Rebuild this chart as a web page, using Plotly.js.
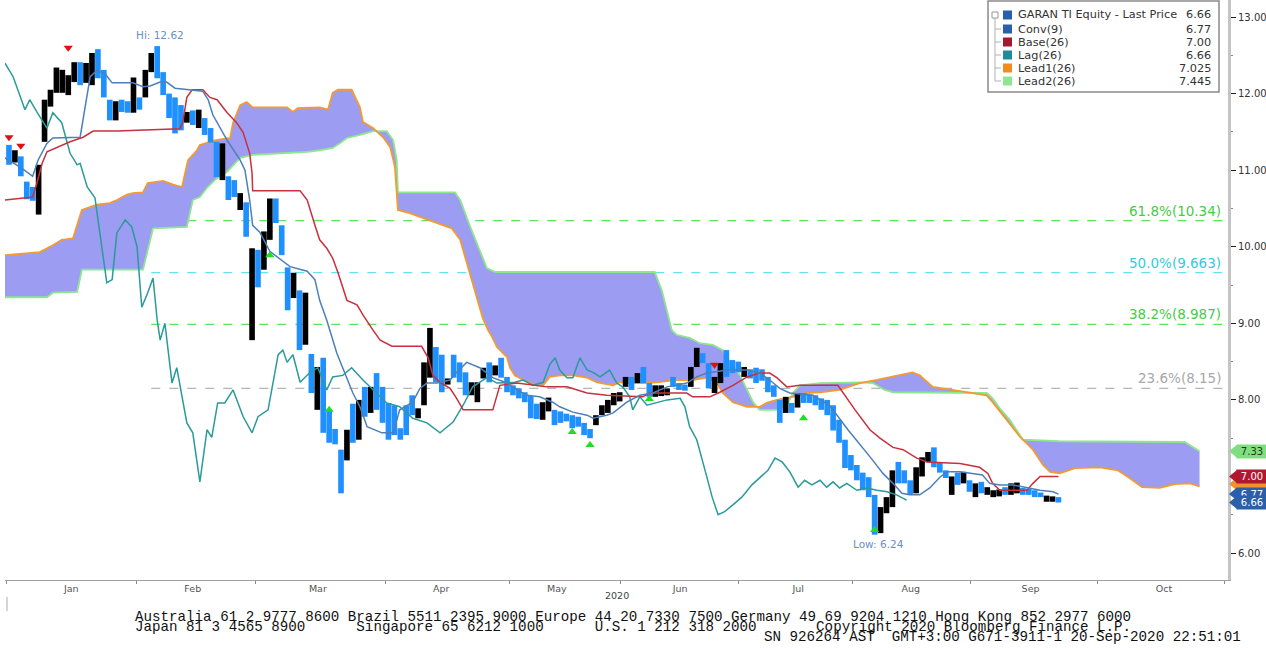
<!DOCTYPE html>
<html><head><meta charset="utf-8">
<script src="https://cdn.plot.ly/plotly-3.0.1.min.js"></script>
<style>html,body{margin:0;padding:0;background:#fff;} #chart{width:1266px;height:650px;}</style>
</head><body><div id="chart"></div>
<script>
// ---- Price data (trading-day index 0 = 2 Jan 2020) ----
const opens = [11.33,11.10,11.18,10.85,10.78,10.42,11.37,11.83,12.01,12.01,11.98,12.15,12.41,12.14,12.11,12.58,12.31,11.92,11.65,11.92,
11.90,11.75,11.95,11.95,12.28,12.62,12.28,12.00,11.95,11.85,11.62,11.78,11.55,11.68,11.55,11.37,10.87,10.92,10.87,10.48,
10.58,8.78,9.96,9.70,10.09,10.63,10.28,9.73,9.33,9.43,8.72,8.60,7.87,8.55,7.87,7.62,7.35,7.21,7.95,7.48,
8.17,7.83,8.35,8.17,7.96,7.93,7.63,7.93,8.06,7.76,7.93,8.29,8.69,8.59,8.20,8.59,8.49,8.36,8.06,7.97,
8.28,8.49,8.32,8.55,8.30,8.19,8.15,8.10,8.05,7.95,7.74,7.85,7.87,7.85,7.82,7.80,7.78,7.70,7.62,7.67,
7.80,7.83,7.93,7.98,8.17,8.30,8.22,8.43,8.22,8.04,8.05,8.06,8.30,8.22,8.20,8.17,8.43,8.61,8.48,8.09,
8.22,8.65,8.52,8.50,8.30,8.40,8.42,8.40,8.30,8.19,8.00,7.83,7.96,7.90,8.09,8.07,8.06,8.02,8.00,7.93,
7.74,7.48,7.28,7.15,7.05,6.99,6.76,6.26,6.52,6.60,7.19,7.08,6.95,6.78,7.00,7.19,7.38,7.18,7.08,6.76,
7.05,6.91,6.95,6.73,6.93,6.76,6.73,6.74,6.86,6.76,6.78,6.85,6.84,6.82,6.79,6.67,6.67,6.73];
const closes = [11.07,11.26,10.92,10.62,10.60,11.07,11.92,12.05,12.34,12.31,12.24,12.41,12.11,12.40,12.53,12.20,11.95,11.65,11.90,11.76,
11.75,12.21,11.79,12.31,12.53,12.20,11.98,11.68,11.48,11.52,11.76,11.59,11.79,11.46,11.36,10.91,11.35,10.61,10.65,10.70,
10.13,9.98,9.47,10.20,10.63,10.31,9.89,9.17,9.66,8.65,9.40,8.09,8.43,7.57,7.44,7.42,6.78,7.61,7.44,8.00,
7.78,8.17,7.87,7.70,7.48,7.54,7.48,7.54,7.80,7.89,8.49,8.94,8.23,8.10,8.28,8.29,8.23,8.06,8.23,8.23,
8.42,8.23,8.45,8.29,8.10,8.06,8.02,7.97,7.76,7.75,7.97,8.03,7.67,7.70,7.72,7.63,7.65,7.54,7.50,7.80,
7.93,8.00,8.09,8.10,8.30,8.13,8.35,8.22,8.04,8.19,8.19,8.15,8.17,8.13,8.12,8.43,8.68,8.48,8.15,8.30,
8.48,8.30,8.35,8.36,8.43,8.28,8.22,8.25,8.10,8.04,7.70,8.04,7.83,8.09,7.96,7.96,7.93,7.87,7.80,7.60,
7.44,7.11,7.08,6.95,6.82,6.73,6.24,6.60,6.73,7.08,6.91,6.91,6.76,7.12,7.25,7.32,7.12,7.05,6.98,7.00,
6.89,7.06,6.80,6.91,6.78,6.86,6.82,6.83,6.76,6.91,6.92,6.76,6.76,6.73,6.73,6.75,6.74,6.66];

// ---- Ichimoku lines (day index, value) ----
const convX = [-0.7,1.9,4.0,4.9,6.4,7.4,12.0,12.8,13.7,14.8,16.2,17.4,20.9,22.6,23.8,25.5,26.6,28.0,31.0,32.7,33.6,34.4,36.8,39.0,39.8,40.6,41.1,42.3,44.0,47.4,50.3,51.6,52.4,53.6,55.3,56.3,58.0,59.2,60.4,62.9,64.8,65.9,68.1,69.3,70.5,72.2,74.4,75.5,77.2,79.4,81.6,84.0,85.7,87.4,89.5,91.7,92.9,95.1,97.5,98.5,100.8,101.9,104.2,106.4,108.6,111.0,114.3,116.0,117.7,121.1,124.5,126.6,128.3,130.0,131.7,135.6,138.4,141.5,144.0,145.7,147.4,149.1,150.6,151.9,153.6,155.3,157.0,158.2,160.4,162.6,164.2,165.4,167.1,169.3,171.7,173.9,176.1,177.0];
const convY = [11.16,11.04,10.92,11.13,11.35,11.42,11.43,11.79,12.22,12.30,12.26,12.14,12.14,12.09,12.10,12.15,12.15,12.07,12.05,12.03,11.92,11.72,11.39,11.13,11.00,10.61,10.28,10.19,9.94,9.74,9.68,9.57,9.30,9.04,8.61,8.42,8.09,7.91,7.65,7.57,7.57,7.87,7.97,8.15,8.22,8.22,8.26,8.36,8.49,8.42,8.29,8.22,8.13,8.06,8.04,7.97,7.91,7.84,7.80,7.76,7.80,7.83,7.97,8.06,8.09,8.17,8.22,8.30,8.35,8.39,8.39,8.35,8.26,8.15,8.09,8.06,7.93,7.61,7.38,7.21,7.04,6.91,6.78,6.76,6.76,6.85,6.99,7.06,7.06,7.04,7.02,6.91,6.89,6.89,6.85,6.82,6.80,6.77];

const baseX = [-0.7,4.0,4.7,5.6,6.4,8.1,10.3,12.5,14.2,18.2,28.8,29.3,30.0,30.9,32.7,33.9,35.1,36.8,38.4,39.5,40.6,41.0,41.1,49.1,50.3,51.6,52.4,53.6,54.6,55.5,56.3,57.0,58.7,59.7,61.4,62.6,64.6,69.6,70.7,71.5,72.7,74.4,75.5,76.6,81.6,82.3,82.8,85.7,90.7,94.1,97.5,100.8,106.9,108.1,114.3,115.3,118.2,119.9,122.1,124.5,126.6,128.3,129.5,131.2,133.4,139.8,140.6,142.7,145.2,146.9,149.1,150.8,153.1,154.8,160.4,163.7,165.1,165.9,167.1,171.7,172.7,173.9,177.0];
const baseY = [10.61,10.65,10.83,11.09,11.24,11.30,11.37,11.43,11.51,11.51,11.54,11.62,11.95,12.05,12.05,11.95,11.92,11.75,11.62,11.49,11.22,10.96,10.73,10.73,10.61,10.28,10.09,9.98,9.85,9.66,9.47,9.30,9.24,9.11,8.91,8.78,8.70,8.70,8.55,8.32,8.23,8.15,8.02,7.87,7.87,8.06,8.19,8.22,8.17,8.17,8.09,8.06,8.04,8.09,8.09,8.04,8.04,8.10,8.19,8.30,8.35,8.35,8.29,8.17,8.19,8.19,8.10,7.87,7.61,7.50,7.38,7.35,7.24,7.19,7.17,7.12,7.04,6.91,6.82,6.82,6.91,7.00,7.00];

const lagX = [-0.7,0.7,2.7,3.5,4.7,6.4,7.4,8.9,10.3,11.5,12.0,13.2,14.5,15.3,16.5,17.4,18.2,19.6,20.7,21.6,22.4,23.4,24.3,25.0,25.5,26.3,27.5,28.3,30.0,31.0,32.2,33.4,34.2,35.2,36.4,37.8,39.5,41.0,42.0,43.7,45.4,46.2,46.9,47.9,49.1,50.8,52.1,53.6,54.6,56.3,57.8,59.7,61.4,63.7,65.9,68.1,70.5,72.7,74.9,76.6,78.2,80.6,82.3,85.3,86.7,88.4,90.1,91.2,92.1,92.9,94.1,95.1,96.3,97.5,98.5,99.7,101.3,102.5,103.5,104.7,105.2,106.4,107.6,109.3,111.0,113.2,114.0,114.8,116.0,117.4,118.6,119.6,120.7,122.1,123.6,125.3,126.6,128.0,129.2,130.4,131.7,133.1,134.2,135.4,136.8,137.9,139.0,140.1,141.3,143.0,144.7,146.4,148.1,149.7,151.4];
const lagY = [12.40,12.22,11.79,11.92,11.76,11.55,11.75,11.62,11.22,11.07,11.09,10.78,10.64,10.18,9.53,9.57,10.18,10.35,10.26,10.00,9.21,9.40,9.59,9.04,8.78,9.00,8.22,8.42,7.70,7.57,6.93,7.61,7.51,7.96,7.96,8.13,7.78,7.57,7.78,7.87,8.59,8.65,8.49,8.59,8.23,8.36,8.42,8.13,8.30,8.32,8.42,8.26,8.13,7.96,7.91,7.76,7.70,7.57,7.71,7.93,8.17,8.29,8.22,8.23,8.26,8.19,8.23,8.46,8.55,8.39,8.29,8.29,8.55,8.39,8.36,8.30,8.39,8.22,8.17,8.04,7.87,8.04,7.93,7.97,8.00,8.02,7.91,7.65,7.48,7.08,6.73,6.50,6.54,6.63,6.73,6.89,6.98,7.08,7.24,7.19,7.06,6.86,6.95,6.89,6.95,6.86,6.93,6.85,6.91,6.82,6.85,6.82,6.80,6.76,6.69];

const lead1X = [-0.7,5.2,7.4,8.9,10.8,12.3,14.8,17.0,18.2,19.9,20.9,22.6,23.4,26.0,27.7,29.2,29.7,30.2,31.7,32.2,34.7,37.3,37.8,39.0,40.1,41.1,46.9,47.9,48.7,52.4,53.8,54.6,55.5,57.8,59.2,59.7,61.4,63.1,64.3,65.1,65.6,67.6,69.3,72.7,74.7,76.1,77.1,78.6,79.9,80.8,81.5,82.3,84.0,84.5,85.3,86.7,89.0,90.1,91.2,92.9,95.1,97.5,99.2,101.9,103.0,104.2,106.9,109.3,112.6,115.3,117.7,119.4,120.4,122.1,124.5,126.6,127.8,129.5,132.2,134.6,136.8,140.1,143.5,146.4,149.4,152.4,153.6,155.8,161.5,164.9,165.9,168.3,170.5,172.7,174.4,175.6,177.2,179.8,184.0,187.0,189.0,191.1,194.1,196.6,199.2,200.8];
const lead1Y = [9.89,9.93,10.02,10.09,10.11,10.48,10.55,10.57,10.61,10.68,10.70,10.71,10.83,10.86,10.81,10.78,10.96,11.13,11.26,11.33,11.39,11.42,11.62,11.85,11.89,11.82,11.82,11.76,11.81,11.82,11.79,12.01,12.05,12.05,11.82,11.63,11.55,11.43,11.30,11.04,10.48,10.44,10.39,10.30,10.24,10.09,9.83,9.43,9.07,8.91,8.82,8.69,8.56,8.42,8.32,8.26,8.19,8.19,8.30,8.32,8.32,8.29,8.23,8.19,8.23,8.22,8.22,8.23,8.26,8.26,8.29,8.22,8.09,7.97,7.91,7.91,7.96,8.00,8.04,8.09,8.10,8.13,8.22,8.26,8.31,8.36,8.32,8.17,8.10,8.06,7.97,7.74,7.52,7.35,7.15,7.06,7.04,7.11,7.12,7.08,6.98,6.86,6.85,6.90,6.91,6.87];

const lead2X = [-0.7,6.4,7.4,11.5,12.3,22.6,24.3,30.0,31.0,32.2,33.4,34.7,36.8,39.0,41.1,46.9,50.3,52.4,54.6,55.8,57.0,59.2,61.4,63.7,64.8,65.4,65.6,75.2,76.1,77.7,79.4,80.6,82.0,108.9,110.1,111.1,111.8,112.6,114.8,116.5,118.7,120.4,121.1,123.3,124.5,125.5,126.6,129.5,131.2,132.2,133.4,136.8,143.5,145.7,147.7,149.1,164.9,165.9,167.1,168.8,171.0,177.2,198.3,200.0,200.8];
const lead2Y = [9.34,9.34,9.40,9.41,9.70,9.70,10.24,10.26,10.61,10.65,10.77,10.87,10.98,11.16,11.20,11.22,11.24,11.26,11.29,11.35,11.42,11.46,11.51,11.51,11.39,11.13,10.71,10.71,10.61,10.28,9.96,9.72,9.67,9.67,9.43,9.11,8.91,8.85,8.81,8.74,8.72,8.65,8.55,8.32,8.13,7.97,7.87,7.87,7.93,8.09,8.19,8.22,8.23,8.22,8.13,8.10,8.09,8.02,7.89,7.74,7.48,7.46,7.45,7.37,7.33];

// ---- Signals ----
const sellX = [0,2,10,119];
const sellY = [11.43,11.32,12.60,8.46];
const buyX = [44,54,95,98,108,134,146];
const buyY = [9.89,7.87,7.58,7.41,8.01,7.76,6.30];

// ---- Fibonacci retracement levels ----
const fibLevels = [10.34, 9.663, 8.987, 8.15];
const fibLabels = ['61.8%(10.34)', '50.0%(9.663)', '38.2%(8.987)', '23.6%(8.15)'];
const fibColors = ['#66dd66', '#66e2ee', '#66dd66', '#b5b5b5'];
const fibTextColors = ['#44cc44', '#33ccdd', '#44cc44', '#a8a8a8'];
const fibStart = 24;

// ---- Axis labels ----
const monthLabels = ['Jan','Feb','Mar','Apr','May','Jun','Jul','Aug','Sep','Oct'];
const monthCenters = [10.5,31.0,52.1,72.9,92.4,113.2,133.1,152.1,172.3,194.8];
const monthStarts = [-0.5,21.5,41.5,63.5,84.5,103.2,123.1,142.3,162.2,183.6,205.0];
const yTicks = [6,7,8,9,10,11,12,13];

// ---- Legend / last values ----
const legendNames = ['GARAN TI Equity - Last Price','Conv(9)','Base(26)','Lag(26)','Lead1(26)','Lead2(26)'];
const legendValues = ['6.66','6.77','7.00','6.66','7.025','7.445'];
const legendColors = ['#2a5fae','#2a5fae','#a3192f','#1f8c9c','#f28c1c','#8ee68e'];
const tagValues = [7.33, 7.00, 6.77, 6.66];
const tagTexts = ['7.33','7.00','6.77','6.66'];
const tagColors = ['#80de80','#b3162f','#2b5fa8','#2b5fa8'];
const tagTextColors = ['#1a3a1a','#ffffff','#ffffff','#ffffff'];
const lead1TagValue = 6.90;

const XR = [-0.67, 205.6];
const YR = [5.648, 13.222];

const days = opens.map((_, k) => k);
const body = closes.map((c, k) => c - opens[k]);
const barColors = closes.map((c, k) => c >= opens[k] ? '#000000' : '#1e90ff');

const traces = [
  {type:'scatter', mode:'lines', x: lead2X, y: lead2Y, line:{color:'#8ee68e', width:1.8}, hoverinfo:'skip'},
  {type:'scatter', mode:'lines', x: lead1X, y: lead1Y, fill:'tonexty', fillcolor:'rgb(156,156,242)', line:{color:'#f39a30', width:1.8}, hoverinfo:'skip'},
  {type:'bar', x: days, y: body, base: opens, width: 0.95, marker:{color: barColors, line:{width:0}}, xaxis:'x2', yaxis:'y2', hoverinfo:'skip'},
  {type:'scatter', mode:'lines', x: lagX, y: lagY, line:{color:'#2a9a9a', width:1.5}, xaxis:'x2', yaxis:'y2', hoverinfo:'skip'},
  {type:'scatter', mode:'lines', x: baseX, y: baseY, line:{color:'#c8303c', width:1.5}, xaxis:'x2', yaxis:'y2', hoverinfo:'skip'},
  {type:'scatter', mode:'lines', x: convX, y: convY, line:{color:'#4d7fb8', width:1.5}, xaxis:'x2', yaxis:'y2', hoverinfo:'skip'},
  {type:'scatter', mode:'markers', x: sellX, y: sellY, marker:{symbol:'triangle-down', size:8, color:'#e01010'}, xaxis:'x2', yaxis:'y2', hoverinfo:'skip'},
  {type:'scatter', mode:'markers', x: buyX, y: buyY, marker:{symbol:'triangle-up', size:8, color:'#22dd22'}, xaxis:'x2', yaxis:'y2', hoverinfo:'skip'}
];

const px2paperX = p => (p - 5) / 1223;
const px2paperY = p => (580 - p) / 580;

const shapes = [];
const annotations = [];

fibLevels.forEach((lv, k) => {
  shapes.push({type:'line', xref:'x', yref:'y', x0: fibStart, x1: XR[1], y0: lv, y1: lv, layer:'below',
    line:{color: fibColors[k], width:1.3, dash:'dash'}});
  annotations.push({xref:'paper', yref:'y', x: px2paperX(1223), y: lv, xanchor:'right', yanchor:'bottom', yshift:0,
    text: fibLabels[k], showarrow:false, font:{family:'DejaVu Sans', size:13.5, color: fibTextColors[k]}});
});

// Hi / Low labels
annotations.push({xref:'x', yref:'y', x: 25.4, y: 12.62, yanchor:'bottom', yshift:3, showarrow:false,
  text:'Hi: 12.62', font:{family:'DejaVu Sans', size:10.5, color:'#6a8fc8'}});
annotations.push({xref:'x', yref:'y', x: 146.6, y: 6.24, yanchor:'top', yshift:-1, showarrow:false,
  text:'Low: 6.24', font:{family:'DejaVu Sans', size:10.5, color:'#6a8fc8'}});

// Legend box
shapes.push({type:'rect', xref:'paper', yref:'paper', x0: px2paperX(988), x1: px2paperX(1219), y0: px2paperY(92), y1: px2paperY(1),
  fillcolor:'#ffffff', line:{color:'#8a8a8a', width:1.5}, layer:'above'});
const rowY = [15, 29, 42, 55, 68, 81];
shapes.push({type:'line', xref:'paper', yref:'paper', x0: px2paperX(995), x1: px2paperX(995), y0: px2paperY(18), y1: px2paperY(81),
  line:{color:'#b0b0b0', width:1}});
shapes.push({type:'rect', xref:'paper', yref:'paper', x0: px2paperX(992), x1: px2paperX(998), y0: px2paperY(18), y1: px2paperY(12),
  fillcolor:'#ffffff', line:{color:'#999', width:1}});
legendNames.forEach((nm, k) => {
  const py = rowY[k];
  if (k > 0) shapes.push({type:'line', xref:'paper', yref:'paper', x0: px2paperX(995), x1: px2paperX(1001), y0: px2paperY(py), y1: px2paperY(py),
    line:{color:'#b0b0b0', width:1}});
  shapes.push({type:'rect', xref:'paper', yref:'paper', x0: px2paperX(1003), x1: px2paperX(1012), y0: px2paperY(py+4.5), y1: px2paperY(py-4.5),
    fillcolor: legendColors[k], line:{width:0}});
  annotations.push({xref:'paper', yref:'paper', x: px2paperX(1016), y: px2paperY(py), xanchor:'left', yanchor:'middle', showarrow:false,
    text: nm, font:{family:'DejaVu Sans', size:11.3, color:'#333'}});
  annotations.push({xref:'paper', yref:'paper', x: px2paperX(1213), y: px2paperY(py), xanchor:'right', yanchor:'middle', showarrow:false,
    text: legendValues[k], font:{family:'DejaVu Sans', size:11.3, color:'#333'}});
});

// Right-side value tags
const tagH = 13 / 76.58 / 2;
shapes.push({type:'path', xref:'paper', yref:'y',
  path: `M ${px2paperX(1229)},${lead1TagValue} L ${px2paperX(1237)},${lead1TagValue + tagH} L ${px2paperX(1266)},${lead1TagValue + tagH} L ${px2paperX(1266)},${lead1TagValue - tagH} L ${px2paperX(1237)},${lead1TagValue - tagH} Z`,
  fillcolor:'#f0922c', line:{width:0}, layer:'above'});
tagValues.forEach((v, k) => {
  shapes.push({type:'path', xref:'paper', yref:'y',
    path: `M ${px2paperX(1229)},${v} L ${px2paperX(1237)},${v + tagH} L ${px2paperX(1237)},${v - tagH} Z`,
    fillcolor: tagColors[k], line:{width:0}, layer:'above'});
  annotations.push({xref:'paper', yref:'y', x: px2paperX(1236), y: v, xanchor:'left', yanchor:'middle', showarrow:false,
    text: tagTexts[k], width: 30, height: 13, borderpad: 0, bgcolor: tagColors[k], align:'center',
    font:{family:'DejaVu Sans', size:10, color: tagTextColors[k]}});
});

// Footer
const sp = n => '\u00a0'.repeat(n);
const footFont = {family:'Liberation Mono', size:14.2, color:'#111'};
annotations.push({xref:'paper', yref:'paper', x: px2paperX(617), y: px2paperY(603), showarrow:false, text:'2020',
  font:{family:'DejaVu Sans', size:9.5, color:'#444'}});
annotations.push({xref:'paper', yref:'paper', x: px2paperX(133), y: px2paperY(617), xanchor:'left', yanchor:'middle', showarrow:false,
  text:'Australia 61 2 9777 8600 Brazil 5511 2395 9000 Europe 44 20 7330 7500 Germany 49 69 9204 1210 Hong Kong 852 2977 6000', font: footFont});
annotations.push({xref:'paper', yref:'paper', x: px2paperX(133), y: px2paperY(626.5), xanchor:'left', yanchor:'middle', showarrow:false,
  text:'Japan 81 3 4565 8900' + sp(6) + 'Singapore 65 6212 1000' + sp(6) + 'U.S. 1 212 318 2000' + sp(7) + 'Copyright 2020 Bloomberg Finance L.P.', font: footFont});
annotations.push({xref:'paper', yref:'paper', x: px2paperX(762), y: px2paperY(636.5), xanchor:'left', yanchor:'middle', showarrow:false,
  text:'SN 926264 AST' + sp(2) + 'GMT+3:00 G671-3911-1 20-Sep-2020 22:51:01', font: footFont});
shapes.push({type:'line', xref:'paper', yref:'paper', x0: px2paperX(7), x1: px2paperX(7), y0: px2paperY(597), y1: px2paperY(611),
  line:{color:'#aaa', width:1}});

const layout = {
  width:1266, height:650,
  margin:{l:5, r:38, t:0, b:70},
  paper_bgcolor:'#ffffff', plot_bgcolor:'#ffffff',
  showlegend:false, hovermode:false, barmode:'overlay',
  xaxis:{range: XR, tickmode:'array', tickvals: monthCenters, ticktext: monthLabels, ticks:'', showgrid:false, zeroline:false,
    showline:true, linecolor:'#a0a0a0', linewidth:1, tickfont:{family:'DejaVu Sans', size:9.5, color:'#555'},
    minor:{tickmode:'array', tickvals: monthStarts, ticks:'outside', ticklen:3, tickcolor:'#888', showgrid:false}},
  yaxis:{range: YR, side:'right', tickmode:'array', tickvals: yTicks, tickformat:'.2f', ticks:'outside', ticklen:5, tickcolor:'#222',
    showgrid:false, zeroline:false, showline:true, linecolor:'#c4c4c4', linewidth:3,
    tickfont:{family:'DejaVu Sans', size:10, color:'#333'},
    minor:{dtick:0.5, ticks:'outside', ticklen:2, tickcolor:'#888', showgrid:false}},
  xaxis2:{range: XR, overlaying:'x', visible:false},
  yaxis2:{range: YR, overlaying:'y', visible:false},
  shapes: shapes,
  annotations: annotations
};

Plotly.newPlot('chart', traces, layout, {staticPlot:true, displayModeBar:false});
</script></body></html>
